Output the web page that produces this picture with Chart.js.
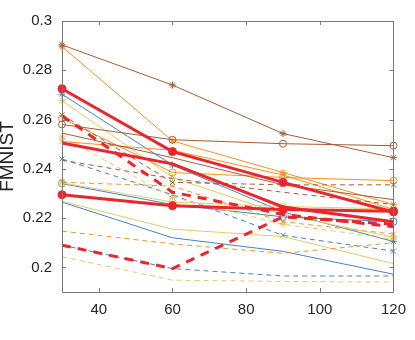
<!DOCTYPE html>
<html>
<head>
<meta charset="utf-8">
<script src="https://cdn.jsdelivr.net/npm/chart.js@4"></script>
<style>
  html, body { margin: 0; padding: 0; background: #fff; }
  #wrap { width: 415px; height: 340px; }
</style>
</head>
<body>
<div id="wrap"><canvas id="myChart" width="415" height="340"></canvas></div>
<script>
// x positions and axis ticks
const xValues = [30, 60, 90, 120];
const xTicks = [40, 60, 80, 100, 120];
const yTicks = [0.2, 0.22, 0.24, 0.26, 0.28, 0.3];

// red (thick)
const redSolidA = [0.2725, 0.247, 0.2345, 0.2225];
const redSolidB = [0.2505, 0.242, 0.2245, 0.2185];
const redSolidC = [0.2295, 0.225, 0.2235, 0.2228];
const redDashA = [0.2615, 0.2305, 0.2215, 0.2165];
const redDashB = [0.209, 0.1995, 0.2205, 0.2175];
// brown
const brownStar = [0.2903, 0.274, 0.2543, 0.2445];
const brownCircle = [0.258, 0.2518, 0.2502, 0.2494];
const brownLine = [0.2545, 0.2445, 0.2335, 0.2275];
const brownDashA = [0.2619, 0.2345, 0.2335, 0.2335];
const brownDashB = [0.2435, 0.236, 0.2305, 0.2255];
// orange
const orangeStar = [0.2896, 0.2513, 0.2385, 0.2255];
const orangeCircle = [0.2605, 0.2385, 0.2365, 0.2352];
const orangeCross = [0.2511, 0.2475, 0.2375, 0.2235];
const orangeDashA = [0.2345, 0.233, 0.2185, 0.2135];
const orangeDashB = [0.2147, 0.2095, 0.2057, 0.21];
// yellow
const yellowStar = [0.2677, 0.2365, 0.2215, 0.2122];
const yellowCircle = [0.2343, 0.2265, 0.2247, 0.2237];
const yellowLine = [0.2268, 0.2155, 0.2125, 0.2015];
const yellowDashA = [0.253, 0.2285, 0.2175, 0.2115];
const yellowDashB = [0.2043, 0.1948, 0.1943, 0.194];
// blue
const blueStar = [0.2703, 0.2415, 0.2225, 0.2105];
const blueCircle = [0.234, 0.2255, 0.2205, 0.2185];
const blueLine = [0.2265, 0.212, 0.2065, 0.1972];
const blueDashA = [0.244, 0.2295, 0.213, 0.2066];
const blueDashB = [0.209, 0.1995, 0.1965, 0.1965];

const RED = '#E8262B', BROWN = '#A85C33', ORANGE = '#F6921E', YELLOW = '#E3CB66', BLUE = '#4682C4';

function series(values, color, opts) {
  opts = opts || {};
  return {
    data: values.map((v, i) => ({ x: xValues[i], y: v })),
    borderColor: color,
    backgroundColor: opts.fill ? color : 'rgba(255,255,255,0)',
    borderWidth: opts.width || 1,
    borderDash: opts.dash || [],
    pointStyle: opts.marker || false,
    pointRadius: opts.marker ? (opts.size || 3.5) : 0,
    pointBorderColor: color,
    pointBackgroundColor: opts.fill ? color : 'rgba(255,255,255,0)',
    pointBorderWidth: 1,
    tension: 0,
    clip: 8
  };
}

// inward ticks and box frame, like the original figure
const frame = {
  id: 'frame',
  afterDraw(chart) {
    const ctx = chart.ctx, a = chart.chartArea;
    const xs = chart.scales.x, ys = chart.scales.y;
    ctx.save();
    ctx.strokeStyle = '#7a7a7a';
    ctx.lineWidth = 1;
    ctx.beginPath();
    ctx.rect(Math.round(a.left) + 0.5, Math.round(a.top) + 0.5,
             Math.round(a.right - a.left), Math.round(a.bottom - a.top));
    xTicks.forEach(t => {
      const px = Math.round(xs.getPixelForValue(t)) + 0.5;
      ctx.moveTo(px, a.bottom); ctx.lineTo(px, a.bottom - 4);
      ctx.moveTo(px, a.top); ctx.lineTo(px, a.top + 4);
    });
    yTicks.forEach(t => {
      const py = Math.round(ys.getPixelForValue(t)) + 0.5;
      ctx.moveTo(a.left, py); ctx.lineTo(a.left + 4, py);
      ctx.moveTo(a.right, py); ctx.lineTo(a.right - 4, py);
    });
    ctx.stroke();
    ctx.restore();
  }
};

window.onload = function() {
  const data = {
    datasets: [
      series(redSolidA, RED, { width: 3, marker: 'circle', fill: true, size: 4 }),
      series(redSolidB, RED, { width: 3 }),
      series(redSolidC, RED, { width: 3, marker: 'circle', fill: true, size: 4 }),
      series(redDashA, RED, { width: 3, dash: [9, 7] }),
      series(redDashB, RED, { width: 3, dash: [9, 7] }),
      series(brownStar, BROWN, { marker: 'star' }),
      series(brownCircle, BROWN, { marker: 'circle' }),
      series(brownLine, BROWN, {}),
      series(brownDashA, BROWN, { dash: [5, 4], marker: 'crossRot' }),
      series(brownDashB, BROWN, { dash: [5, 4] }),
      series(orangeStar, ORANGE, { marker: 'star' }),
      series(orangeCircle, ORANGE, { marker: 'circle' }),
      series(orangeCross, ORANGE, { marker: 'crossRot' }),
      series(orangeDashA, ORANGE, { dash: [5, 4], marker: 'crossRot' }),
      series(orangeDashB, ORANGE, { dash: [5, 4] }),
      series(yellowStar, YELLOW, { marker: 'star' }),
      series(yellowCircle, YELLOW, { marker: 'circle' }),
      series(yellowLine, YELLOW, {}),
      series(yellowDashA, YELLOW, { dash: [5, 4], marker: 'star' }),
      series(yellowDashB, YELLOW, { dash: [5, 4] }),
      series(blueStar, BLUE, { marker: 'star' }),
      series(blueCircle, BLUE, { marker: 'circle' }),
      series(blueLine, BLUE, {}),
      series(blueDashA, BLUE, { dash: [5, 4], marker: 'crossRot' }),
      series(blueDashB, BLUE, { dash: [5, 4] })
    ]
  };

  const config = {
    type: 'line',
    data: data,
    plugins: [frame],
    options: {
      responsive: false,
      animation: false,
      layout: { padding: { top: 21, right: 14, left: 0, bottom: 0 } },
      plugins: { legend: { display: false }, tooltip: { enabled: false } },
      scales: {
        x: {
          type: 'linear',
          min: 30,
          max: 120,
          grid: { display: false, drawTicks: false },
          border: { display: false },
          afterBuildTicks: s => { s.ticks = xTicks.map(v => ({ value: v })); },
          afterFit: s => { s.height = 48; },
          ticks: {
            padding: 9,
            maxRotation: 0,
            color: '#262626',
            font: { family: 'Liberation Sans', size: 15 }
          }
        },
        y: {
          min: 0.19,
          max: 0.3,
          grid: { display: false, drawTicks: false },
          border: { display: false },
          afterBuildTicks: s => { s.ticks = yTicks.map(v => ({ value: v })); },
          afterFit: s => { s.width = 62; },
          ticks: {
            padding: 10,
            color: '#262626',
            font: { family: 'Liberation Sans', size: 15 },
            callback: v => String(+v.toFixed(2))
          },
          title: {
            display: true,
            text: 'FMNIST',
            color: '#262626',
            padding: { top: 0, bottom: 0 },
            font: { family: 'Liberation Sans', size: 19, lineHeight: 0.8 }
          }
        }
      }
    }
  };

  const ctx = document.getElementById('myChart').getContext('2d');
  const myChart = new Chart(ctx, config);
};
</script>
</body>
</html>
